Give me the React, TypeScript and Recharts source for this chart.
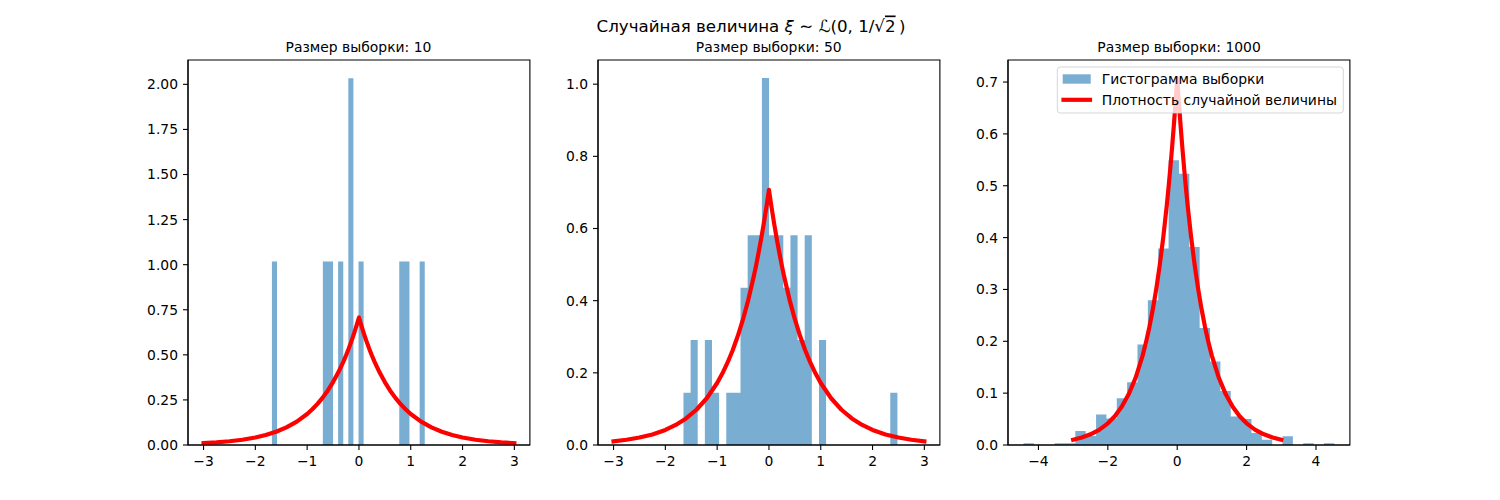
import React from 'react';
import { ComposedChart, Area, Line, XAxis, YAxis, ReferenceArea } from 'recharts';

// Laplace density curve
const CURVE_X = [
  -3, -2.75, -2.5, -2.25, -2, -1.8, -1.6, -1.4, -1.2, -1, -0.9, -0.8, -0.7, -0.6, -0.5, -0.4, -0.3, -0.25, -0.2, -0.15, -0.1, -0.05,
  0,
  0.05, 0.1, 0.15, 0.2, 0.25, 0.3, 0.4, 0.5, 0.6, 0.7, 0.8, 0.9, 1, 1.2, 1.4, 1.6, 1.8, 2, 2.25, 2.5, 2.75, 3,
];
const CURVE_Y = [
  0.0102, 0.0145, 0.0206, 0.0293, 0.0418, 0.0555, 0.0736, 0.0977, 0.1296, 0.1719, 0.198, 0.2281, 0.2628, 0.3027, 0.3487, 0.4016, 0.4626, 0.4965, 0.5329, 0.572, 0.6138, 0.6588,
  0.7071,
  0.6588, 0.6138, 0.572, 0.5329, 0.4965, 0.4626, 0.4016, 0.3487, 0.3027, 0.2628, 0.2281, 0.198, 0.1719, 0.1296, 0.0977, 0.0736, 0.0555, 0.0418, 0.0293, 0.0206, 0.0145, 0.0102,
];

// Panel 1: sample size 10
const P1_EDGES = [
  -1.68, -1.582, -1.483, -1.385, -1.287, -1.188, -1.09, -0.992, -0.893, -0.795, -0.697, -0.598, -0.5, -0.402, -0.303, -0.205,
  -0.107, -0.008, 0.09, 0.188, 0.287, 0.385, 0.483, 0.582, 0.68, 0.778, 0.877, 0.975, 1.073, 1.172, 1.27,
];
const P1_HEIGHTS = [
  1.017, 0, 0, 0, 0, 0, 0, 0, 0, 0, 1.017, 1.017, 0, 1.017, 0, 2.034, 0, 1.017, 0, 0, 0, 0, 0, 0, 0, 1.017, 1.017, 0, 0, 1.017,
];

// Panel 2: sample size 50
const P2_EDGES = [
  -1.65, -1.512, -1.375, -1.237, -1.099, -0.962, -0.824, -0.686, -0.549, -0.411, -0.273, -0.136, 0.002, 0.14, 0.277, 0.415,
  0.553, 0.69, 0.828, 0.966, 1.103, 1.241, 1.379, 1.516, 1.654, 1.792, 1.929, 2.067, 2.205, 2.342, 2.48,
];
const P2_HEIGHTS = [
  0.145, 0.291, 0, 0.291, 0.145, 0, 0.145, 0.145, 0.436, 0.581, 0.581, 1.017, 0.581, 0.581, 0.436, 0.581, 0.291, 0.581, 0,
  0.291, 0, 0, 0, 0, 0, 0, 0, 0, 0, 0.145,
];

// Panel 3: sample size 1000
const P3_EDGES = [
  -4.43, -4.131, -3.833, -3.534, -3.235, -2.937, -2.638, -2.339, -2.041, -1.742, -1.443, -1.145, -0.846, -0.547, -0.249, 0.05,
  0.349, 0.647, 0.946, 1.245, 1.543, 1.842, 2.141, 2.439, 2.738, 3.037, 3.335, 3.634, 3.933, 4.231, 4.53,
];
const P3_HEIGHTS = [
  0.0035, 0, 0, 0.0035, 0.0035, 0.0268, 0.0175, 0.059, 0.051, 0.09, 0.121, 0.194, 0.279, 0.379, 0.549, 0.523, 0.382, 0.2255,
  0.161, 0.104, 0.055, 0.05, 0.023, 0.01, 0, 0.017, 0, 0.0035, 0, 0.0035,
];

const X_TICKS_A = [-3, -2, -1, 0, 1, 2, 3];
const X_TICKS_B = [-4, -2, 0, 2, 4];
const Y_TICKS_1 = [0, 0.25, 0.5, 0.75, 1, 1.25, 1.5, 1.75, 2];
const Y_TICKS_2 = [0, 0.2, 0.4, 0.6, 0.8, 1.0];
const Y_TICKS_3 = [0, 0.1, 0.2, 0.3, 0.4, 0.5, 0.6, 0.7];

const SUBTITLES = ['Размер выборки: 10', 'Размер выборки: 50', 'Размер выборки: 1000'];
const LEGEND_LABELS = ['Гистограмма выборки', 'Плотность случайной величины'];

const FONT = 'DejaVu Sans, Verdana, sans-serif';
const BAR_COLOR = '#1f77b4';
const LINE_COLOR = '#ff0000';

const curveData = CURVE_X.map((x, i) => ({ x, y: CURVE_Y[i] }));
const histData = (edges: number[], heights: number[]) =>
  edges.map((x, i) => ({ x, h: i < heights.length ? heights[i] : 0 }));

const AX_LEFT = [187.5, 597.8, 1008.1];
const AX_W = 341.9;
const AX_TOP = 60;
const AX_H = 385;
const Y_AXIS_W = 70;
const X_AXIS_H = 40;
const M_TOP = 10;
const M_RIGHT = 10;

const panels = [
  { hist: histData(P1_EDGES, P1_HEIGHTS), xDomain: [-3.3, 3.3], xTicks: X_TICKS_A, yMax: 2.135, yTicks: Y_TICKS_1, dec: 2 },
  { hist: histData(P2_EDGES, P2_HEIGHTS), xDomain: [-3.3, 3.3], xTicks: X_TICKS_A, yMax: 1.067, yTicks: Y_TICKS_2, dec: 1 },
  { hist: histData(P3_EDGES, P3_HEIGHTS), xDomain: [-4.878, 4.978], xTicks: X_TICKS_B, yMax: 0.7425, yTicks: Y_TICKS_3, dec: 1 },
];

const minus = (s: string) => s.replace('-', '\u2212');
const tickStyle = { fill: '#000', fontSize: 13.9, fontFamily: FONT };

function Panel({ p, left }: { p: any; left: number }) {
  return (
    <div style={{ position: 'absolute', left: left - Y_AXIS_W, top: AX_TOP - M_TOP }}>
      <ComposedChart
        width={AX_W + Y_AXIS_W + M_RIGHT}
        height={AX_H + M_TOP + X_AXIS_H}
        margin={{ top: M_TOP, right: M_RIGHT, bottom: 0, left: 0 }}
      >
        <XAxis
          dataKey="x"
          type="number"
          domain={p.xDomain}
          allowDataOverflow
          ticks={p.xTicks}
          interval={0}
          height={X_AXIS_H}
          tickSize={5}
          tickMargin={6}
          tick={tickStyle}
          tickLine={{ stroke: '#000', strokeWidth: 1.1 }}
          axisLine={{ stroke: '#000', strokeWidth: 1.1 }}
          tickFormatter={(v: number) => minus(String(v))}
        />
        <YAxis
          type="number"
          domain={[0, p.yMax]}
          allowDataOverflow
          ticks={p.yTicks}
          interval={0}
          width={Y_AXIS_W}
          tickSize={5}
          tickMargin={5}
          tick={tickStyle}
          tickLine={{ stroke: '#000', strokeWidth: 1.1 }}
          axisLine={{ stroke: '#000', strokeWidth: 1.1 }}
          tickFormatter={(v: number) => v.toFixed(p.dec)}
        />
        <Area
          data={p.hist}
          dataKey="h"
          type="stepAfter"
          fill={BAR_COLOR}
          fillOpacity={0.6}
          stroke="none"
          isAnimationActive={false}
          dot={false}
          activeDot={false}
        />
        <Line
          data={curveData}
          dataKey="y"
          type="linear"
          stroke={LINE_COLOR}
          strokeWidth={4.17}
          strokeLinecap="square"
          strokeLinejoin="round"
          dot={false}
          activeDot={false}
          isAnimationActive={false}
        />
        <ReferenceArea
          x1={p.xDomain[0]}
          x2={p.xDomain[1]}
          y1={0}
          y2={p.yMax}
          fill="none"
          stroke="#000"
          strokeWidth={1.1}
          ifOverflow="visible"
        />
      </ComposedChart>
    </div>
  );
}

export default function App() {
  return (
    <div style={{ position: 'absolute', left: 0, top: 0, width: 1500, height: 500, background: '#fff', fontFamily: FONT }}>
      {panels.map((p, i) => (
        <Panel key={i} p={p} left={AX_LEFT[i]} />
      ))}
      <svg width={1500} height={500} style={{ position: 'absolute', left: 0, top: 0, pointerEvents: 'none' }}>
        <text x={751} y={31.5} textAnchor="middle" fontSize={16.67} fontFamily={FONT} fill="#000">
          <tspan>Случайная величина </tspan>
          <tspan fontStyle="italic">ξ</tspan>
          <tspan> ∼ </tspan>
          <tspan>ℒ</tspan>
          <tspan>(0,  1/√</tspan>
          <tspan style={{ textDecoration: 'overline' }}>2</tspan>
          <tspan>{'\u2009)'}</tspan>
        </text>
        {SUBTITLES.map((t, i) => (
          <text key={i} x={AX_LEFT[i] + AX_W / 2} y={51.7} textAnchor="middle" fontSize={13.9} fontFamily={FONT} fill="#000">
            {t}
          </text>
        ))}
        <g>
          <rect x={1057.3} y={67} width={286} height={46} rx={3} fill="#fff" fillOpacity={0.8} stroke="#ccc" strokeOpacity={0.8} strokeWidth={1} />
          <rect x={1062.7} y={74.3} width={28} height={9.4} fill={BAR_COLOR} fillOpacity={0.6} />
          <text x={1101.7} y={83.7} fontSize={13.9} fontFamily={FONT} fill="#000">{LEGEND_LABELS[0]}</text>
          <line x1={1063.5} x2={1090} y1={99.8} y2={99.8} stroke={LINE_COLOR} strokeWidth={4.17} strokeLinecap="square" />
          <text x={1101.7} y={105.3} fontSize={13.9} fontFamily={FONT} fill="#000">{LEGEND_LABELS[1]}</text>
        </g>
      </svg>
    </div>
  );
}
